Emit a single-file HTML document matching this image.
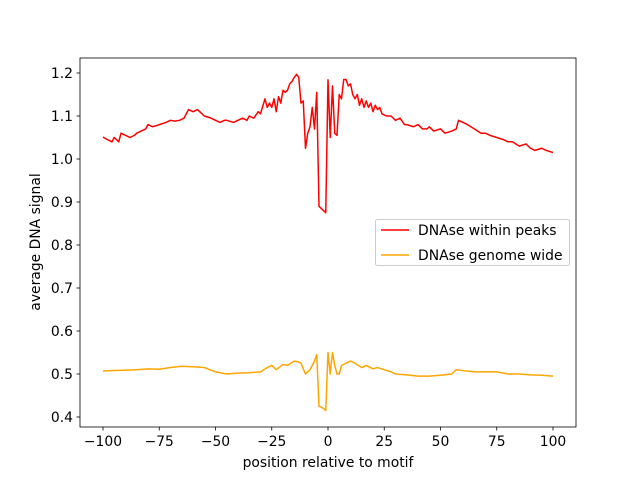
<!DOCTYPE html>
<html><head><meta charset="utf-8"><style>
body{margin:0;background:#fff}
svg{display:block;font-family:"DejaVu Sans","Liberation Sans",sans-serif}
</style></head><body>
<svg id="chart" width="640" height="480">
<rect width="640" height="480" fill="#fff"/>
</svg>
<script>
const peakPos = [-100,-98,-96,-95,-93,-92,-90,-88,-86,-85,-83,-81,-80,-78,-76,-75,-72,-70,-68,-66,-64,-62,-60,-58,-56,-55,-52,-50,-48,-46,-45,-42,-40,-38,-36,-35,-33,-31,-30,-28,-27,-26,-25,-24,-23,-22,-21,-20,-19,-18,-17,-16,-15,-14,-13,-12,-11,-10,-9,-8,-7,-6,-5,-4,-3,-2,-1,0,1,2,3,4,5,6,7,8,9,10,11,12,13,14,15,16,17,18,19,20,21,22,23,24,26,28,30,32,34,35,38,40,42,44,45,47,50,52,55,57,58,60,62,65,68,70,72,75,78,80,82,85,88,90,92,95,97,100];
const peakVal = [1.051,1.045,1.040,1.05,1.04,1.06,1.055,1.05,1.055,1.06,1.065,1.07,1.08,1.075,1.078,1.08,1.085,1.09,1.088,1.09,1.095,1.115,1.11,1.115,1.105,1.10,1.095,1.09,1.085,1.09,1.09,1.085,1.09,1.095,1.09,1.10,1.095,1.11,1.105,1.14,1.12,1.13,1.12,1.14,1.11,1.145,1.13,1.16,1.155,1.16,1.175,1.18,1.19,1.197,1.19,1.13,1.135,1.025,1.06,1.075,1.12,1.07,1.155,0.89,0.885,0.88,0.875,1.184,1.05,1.17,1.06,1.055,1.15,1.14,1.185,1.185,1.17,1.175,1.15,1.14,1.15,1.125,1.14,1.12,1.135,1.12,1.13,1.11,1.125,1.115,1.12,1.105,1.10,1.10,1.09,1.095,1.08,1.08,1.075,1.08,1.07,1.07,1.075,1.065,1.07,1.06,1.065,1.07,1.09,1.085,1.08,1.07,1.06,1.06,1.055,1.05,1.045,1.04,1.04,1.03,1.035,1.025,1.02,1.025,1.02,1.015,1.01,1.01,1.0];
const gwPos = [-100,-95,-90,-85,-80,-75,-70,-65,-60,-55,-50,-45,-40,-35,-30,-27,-25,-23,-20,-18,-15,-13,-12,-11,-10,-9,-8,-7,-6,-5,-4,-3,-2,-1,0,1,2,3,4,5,6,8,10,12,15,17,20,22,25,28,30,35,40,45,50,55,57,60,65,70,75,80,85,90,95,100];
const gwVal = [0.507,0.508,0.509,0.51,0.512,0.511,0.515,0.518,0.517,0.515,0.505,0.50,0.502,0.503,0.505,0.515,0.52,0.51,0.522,0.52,0.53,0.528,0.525,0.512,0.50,0.505,0.51,0.52,0.53,0.545,0.425,0.423,0.42,0.415,0.55,0.50,0.55,0.52,0.50,0.50,0.52,0.525,0.53,0.525,0.515,0.52,0.512,0.515,0.51,0.505,0.50,0.498,0.495,0.495,0.497,0.50,0.51,0.508,0.505,0.505,0.505,0.50,0.50,0.498,0.497,0.495];
const xTicks = [-100,-75,-50,-25,0,25,50,75,100];
const yTicks = [0.4,0.5,0.6,0.7,0.8,0.9,1.0,1.1,1.2];

const L=80,R=576,T=58,B=427;
const xs = v => 103 + (v+100)*2.25;
const ys = v => 73 + (1.2-v)*430;
const svg = document.getElementById('chart');
const NS='http://www.w3.org/2000/svg';
const FS=13.9;
function mk(tag, attrs, parent){const e=document.createElementNS(NS,tag);for(const k in attrs)e.setAttribute(k,attrs[k]);(parent||svg).appendChild(e);return e;}

function series(pos, val, color, name){
  const d = pos.map((p,i)=>(i?'L':'M')+xs(p).toFixed(2)+','+ys(val[i]).toFixed(2)).join('');
  const p = mk('path',{d:d,fill:'none',stroke:color,'stroke-width':1.5,'stroke-linejoin':'round'});
  
  
}
series(peakPos, peakVal, '#ff0000', 'series-dnase-within-peaks');
series(gwPos, gwVal, '#ffa500', 'series-dnase-genome-wide');

const frame = mk('rect',{x:L,y:T,width:R-L,height:B-T,fill:'none',stroke:'#000','stroke-width':0.8});



xTicks.forEach(t=>{
  const x=xs(t);
  mk('line',{x1:x,x2:x,y1:B,y2:B+3.5,stroke:'#000','stroke-width':0.8});
  const tx=mk('text',{x:x,y:B+19,'text-anchor':'middle','font-size':FS});
  tx.textContent=String(t).replace('-','\u2212');
  
  
});
yTicks.forEach(t=>{
  const y=ys(t);
  mk('line',{x1:L-3.5,x2:L,y1:y,y2:y,stroke:'#000','stroke-width':0.8});
  const tx=mk('text',{x:L-7,y:y+5,'text-anchor':'end','font-size':FS});
  tx.textContent=t.toFixed(1);
  
  
});
const xl=mk('text',{x:(L+R)/2,y:467,'text-anchor':'middle','font-size':FS});
xl.textContent='position relative to motif';


const yl=mk('text',{x:0,y:0,'text-anchor':'middle','font-size':FS,transform:'translate(40,242) rotate(-90)'});
yl.textContent='average DNA signal';



const lg=mk('g',{});


mk('rect',{x:375.5,y:219.5,width:194,height:46,rx:2,fill:'#fff','fill-opacity':0.8,stroke:'#ccc'},lg);
[['DNAse within peaks','#ff0000',230],['DNAse genome wide','#ffa500',255]].forEach(e=>{
  const g=mk('g',{},lg);
  
  
  mk('line',{x1:381,x2:409,y1:e[2],y2:e[2],stroke:e[1],'stroke-width':1.5},g);
  const t=mk('text',{x:418,y:e[2]+5,'font-size':FS},g);
  t.textContent=e[0];
});
</script>
</body></html>
